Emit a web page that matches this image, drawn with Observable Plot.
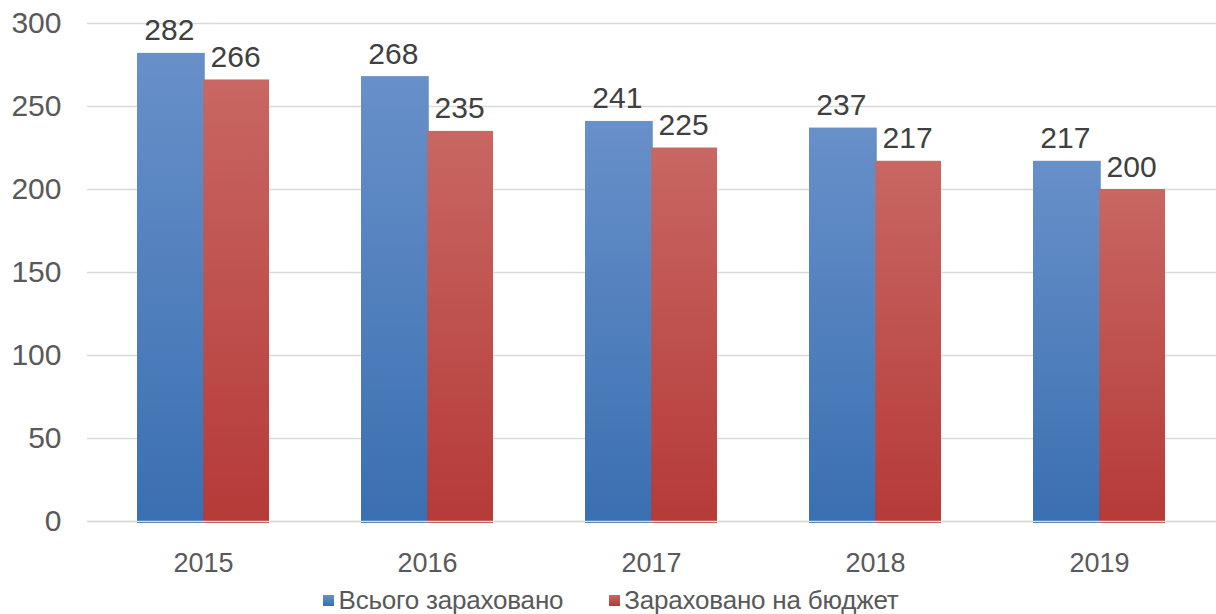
<!DOCTYPE html>
<html>
<head>
<meta charset="utf-8">
<script src="https://cdn.jsdelivr.net/npm/d3@7"></script>
<script src="https://cdn.jsdelivr.net/npm/@observablehq/plot@0.6"></script>
<style>
  html, body { margin: 0; padding: 0; background: #fff; }
  body { width: 1216px; height: 614px; overflow: hidden; font-family: "Liberation Sans", Arial, sans-serif; }
  #legend { display: flex; justify-content: center; align-items: center; height: 36px; margin-left: 6px;
            font-size: 26px; color: #595959; letter-spacing: -0.2px; }
  .item { display: flex; align-items: center; margin: 0 23px; }
  .sw { width: 11px; height: 11px; margin-right: 4px; }
</style>
</head>
<body>
<div id="chart"></div>
<div id="legend"></div>
<script>
const years = ["2015", "2016", "2017", "2018", "2019"];
const total = [282, 268, 241, 237, 217];
const budget = [266, 235, 225, 217, 200];
const seriesNames = ["Всього зараховано", "Зараховано на бюджет"];
const yTicks = [0, 50, 100, 150, 200, 250, 300];

const blueTop = "#6890C9", blueBottom = "#3A6FB1";
const redTop = "#C86763", redBottom = "#B53A38";

const rowsA = years.map((y, i) => ({year: y, value: total[i]}));
const rowsB = years.map((y, i) => ({year: y, value: budget[i]}));

function defs() {
  const d = d3.create("svg:defs");
  const mk = (id, a, b) => {
    const g = d.append("linearGradient").attr("id", id).attr("x1", 0).attr("y1", 0).attr("x2", 0).attr("y2", 1);
    g.append("stop").attr("offset", "0%").attr("stop-color", a);
    g.append("stop").attr("offset", "100%").attr("stop-color", b);
  };
  mk("gBlue", blueTop, blueBottom);
  mk("gRed", redTop, redBottom);
  return d.node();
}

const W = 1216, H = 582;
const mL = 87, mR = 0;
const paddingInner = 0.41, paddingOuter = 0.22;
const step = (W - mL - mR) / (years.length - paddingInner + 2 * paddingOuter);
const bw = step * (1 - paddingInner);
const half = bw / 2;

const chart = Plot.plot({
  width: W,
  height: H,
  marginLeft: mL,
  marginRight: mR,
  marginTop: 23,
  marginBottom: 61,
  style: {fontFamily: "'Liberation Sans', Arial, sans-serif", background: "#fff", overflow: "visible"},
  x: {type: "band", domain: years, paddingInner, paddingOuter, label: null},
  y: {domain: [0, 300], label: null},
  marks: [
    defs,
    Plot.ruleY(yTicks, {stroke: "#d9d9d9", strokeWidth: 1.5}),
    Plot.barY(rowsA, {x: "year", y: "value", fill: "url(#gBlue)", insetRight: half - 2, insetLeft: 0, insetBottom: -2}),
    Plot.barY(rowsB, {x: "year", y: "value", fill: "url(#gRed)", insetLeft: half, insetRight: 0, insetBottom: -2}),
    Plot.ruleY([0], {stroke: "#d9d9d9", strokeWidth: 1.5}),
    Plot.text(rowsA, {x: "year", y: "value", text: d => String(d.value), dx: -half / 2 - 1, dy: -13, lineAnchor: "bottom", fontSize: 30, fill: "#404040"}),
    Plot.text(rowsB, {x: "year", y: "value", text: d => String(d.value), dx: half / 2 - 1, dy: -13, lineAnchor: "bottom", fontSize: 30, fill: "#404040"}),
    Plot.axisY({ticks: yTicks, tickSize: 0, tickPadding: 26, fontSize: 30, color: "#595959", tickFormat: d => String(d)}),
    Plot.axisX({tickSize: 0, tickPadding: 31, fontSize: 27, color: "#595959"})
  ]
});
document.getElementById("chart").appendChild(chart);

const legend = document.getElementById("legend");
[[blueTop, blueBottom], [redTop, redBottom]].forEach((c, i) => {
  const it = document.createElement("div");
  it.className = "item";
  const sw = document.createElement("div");
  sw.className = "sw";
  sw.style.background = `linear-gradient(${c[0]}, ${c[1]})`;
  const t = document.createElement("span");
  t.textContent = seriesNames[i];
  it.appendChild(sw); it.appendChild(t);
  legend.appendChild(it);
});
</script>
</body>
</html>
